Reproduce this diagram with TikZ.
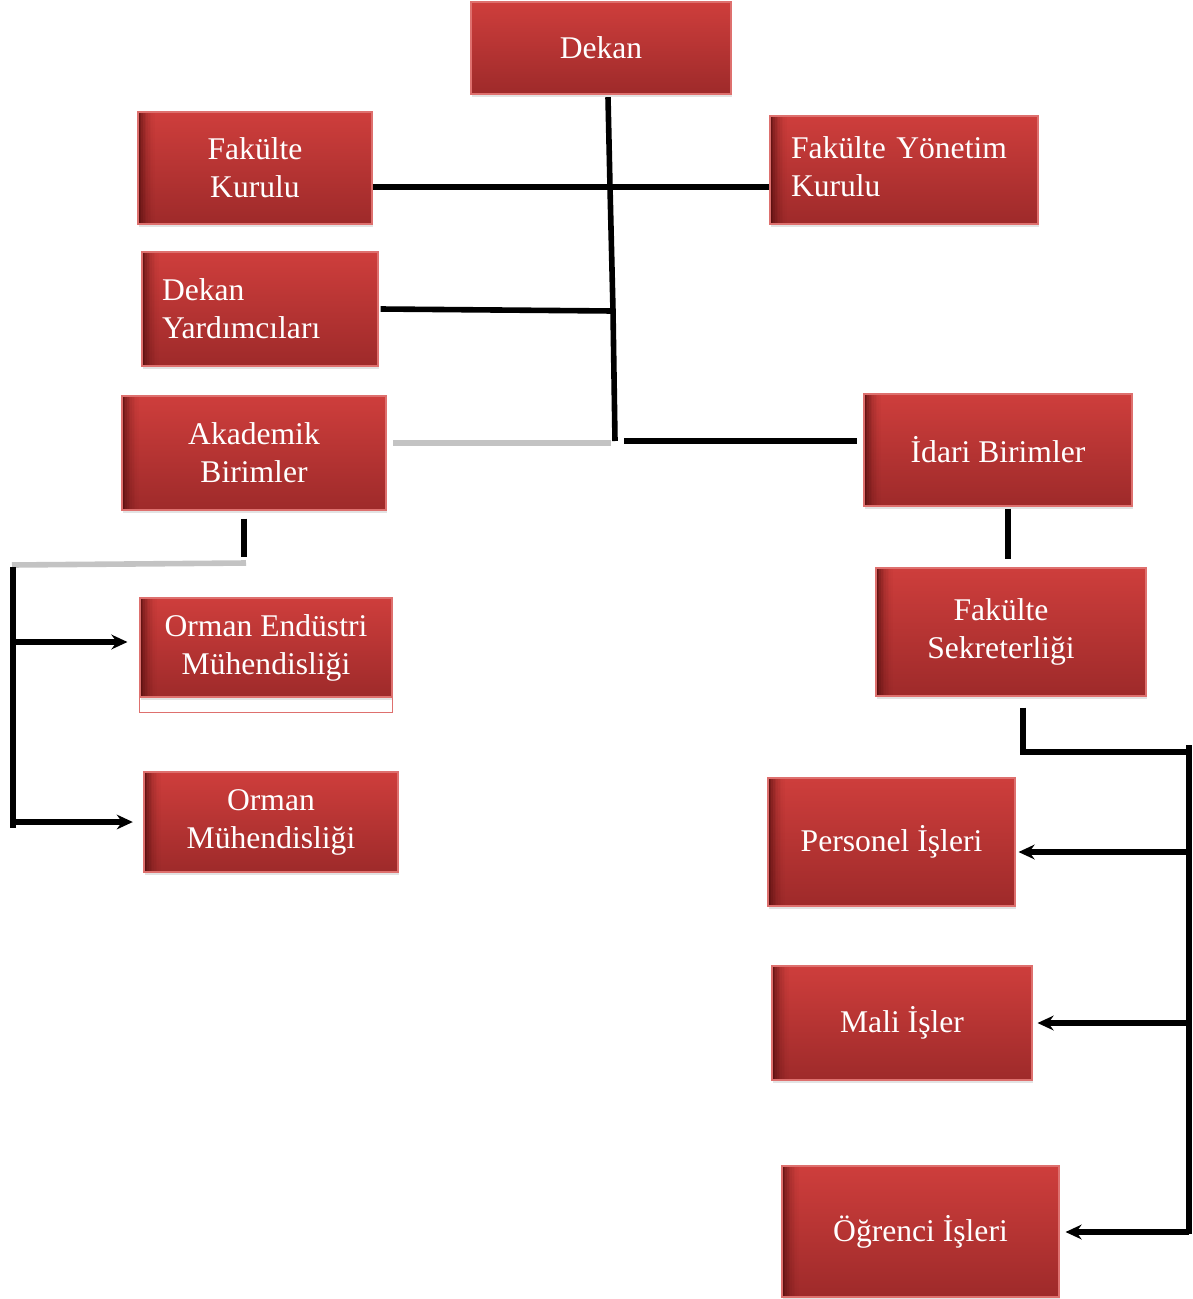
\documentclass[tikz,border=0pt]{standalone}
\usepackage{fontspec}
\setmainfont{Liberation Serif}
\usetikzlibrary{arrows.meta,shadows}
\definecolor{boxtop}{RGB}{206,62,60}
\definecolor{boxbot}{RGB}{158,42,42}
\definecolor{boxline}{RGB}{222,112,110}
\definecolor{edgedark}{RGB}{70,8,8}
\definecolor{grayline}{RGB}{195,195,195}
\begin{document}
\begin{tikzpicture}[x=0.75pt,y=-0.75pt,
  box/.style={draw=boxline, line width=0.8pt, top color=boxtop, bottom color=boxbot,
    text=white, font=\fontsize{23.7}{28.5}\selectfont, align=center, inner sep=0pt,
    drop shadow={opacity=0.22, shadow xshift=1pt, shadow yshift=-2pt}},
  edged/.style={path picture={
    \foreach \i/\o in {0/0.75,1/0.6,2/0.47,3/0.36,4/0.27,5/0.2,6/0.14,7/0.09,8/0.05,9/0.025}{
      \fill[edgedark, fill opacity=\o]
        ([xshift=\i*1.25pt]path picture bounding box.south west) rectangle
        ([xshift=\i*1.25pt+1.25pt]path picture bounding box.north west);}}},
  conn/.style={line width=4.2pt, black},
  softconn/.style={line width=4.2pt, grayline},
  arr/.style={conn, -{Stealth[length=12pt,width=11pt]}}]
\useasboundingbox (0,0) rectangle (1192,1299);

% boxes
\node[box, minimum width=195pt, minimum height=69pt] (dekan) at (601,48) {Dekan};
\node[box, edged, minimum width=175.5pt, minimum height=84pt] (fk) at (255,168) {Fakülte\\Kurulu};
\node[box, edged, align=left, inner xsep=15.75pt, text width=169.5pt, minimum height=81pt] (fyk) at (904,170)
  {\raisebox{3.5pt}{\begin{tabular}{@{}l@{}}Fakülte Yönetim\\Kurulu\end{tabular}}};
\node[box, edged, align=left, inner xsep=15pt, text width=147pt, minimum height=85.5pt] (dy) at (260,309) {Dekan\\Yardımcıları};
\node[box, edged, minimum width=198pt, minimum height=85.5pt] (ab) at (254,453) {Akademik\\Birimler};
\node[box, edged, minimum width=201pt, minimum height=84pt] (ib) at (998,450) {İdari Birimler};
\node[box, edged, minimum width=202.5pt, minimum height=96pt] (fs) at (1011,632)
  {\begin{tabular}{@{}c@{}}Fakülte\\Sekreterliği\end{tabular}\hspace*{15pt}};
\node[box, edged, minimum width=189pt, minimum height=74.25pt] (oem) at (266,647.5)
  {\raisebox{-2.5pt}{\begin{tabular}{@{}c@{}}Orman Endüstri\\Mühendisliği\end{tabular}}};
\draw[boxline, line width=0.8pt] (oem.south west) rectangle ([yshift=-11.25pt]oem.south east);
\node[box, edged, minimum width=190.5pt, minimum height=75pt] (om) at (271,822) {Orman\\Mühendisliği};
\node[box, edged, minimum width=185.25pt, minimum height=96pt] (pi) at (891.5,842) {Personel İşleri};
\node[box, edged, minimum width=195pt, minimum height=85.5pt] (mi) at (902,1023) {Mali İşler};
\node[box, edged, minimum width=207.75pt, minimum height=98.25pt] (oi) at (920.5,1231.5) {Öğrenci İşleri};

% central trunk
\coordinate (jA) at (610,187);
\coordinate (jB) at (613,311);
\coordinate (jC) at (615,441);
\draw[conn] ([xshift=5.25pt,yshift=-2pt]dekan.south) -- (jA) -- (jB) -- (jC);
\draw[conn] (fk.east |- jA) -- (fyk.west |- jA);
\draw[conn] ([xshift=1.5pt]dy.east) -- (jB);
\draw[softconn] ([xshift=-3pt,yshift=-1.5pt]jC) -- ([xshift=4.5pt,yshift=-1.5pt]ab.east |- jC);
\draw[conn] ([xshift=7pt]jC) -- ([xshift=-4.5pt]ib.west |- jC);

% academic branch
\coordinate (aC) at (246,563);
\coordinate (lT) at (12,565);
\coordinate (lTop) at (13,567);
\coordinate (lBot) at (13,828);
\coordinate (la1) at (13,642);
\coordinate (la2) at (13,822);
\draw[conn] ([xshift=-7.5pt,yshift=-6pt]ab.south) -- ++(0,38);
\draw[softconn] (aC) -- (lT);
\draw[conn] (lTop) -- (lBot);
\draw[arr] (la1) -- ([xshift=-9pt]oem.west |- la1);
\draw[arr] (la2) -- ([xshift=-8pt]om.west |- la2);

% administrative branch
\draw[conn] ([xshift=7.5pt,yshift=-1.5pt]ib.south) -- ([xshift=-2.25pt,yshift=6pt]fs.north);
\coordinate (rJ) at (1189,752);
\coordinate (rTop) at (1189,745);
\coordinate (rBot) at (1189,1234);
\coordinate (r1) at (1189,852);
\coordinate (r2) at (1189,1023);
\coordinate (r3) at (1189,1232);
\draw[conn] ([xshift=9pt,yshift=-8.25pt]fs.south) |- (rJ);
\draw[conn] (rTop) -- (rBot);
\draw[arr] (r1) -- ([xshift=2.25pt]pi.east |- r1);
\draw[arr] (r2) -- ([xshift=3.75pt]mi.east |- r2);
\draw[arr] (r3) -- ([xshift=4.5pt]oi.east |- r3);
\end{tikzpicture}
\end{document}
